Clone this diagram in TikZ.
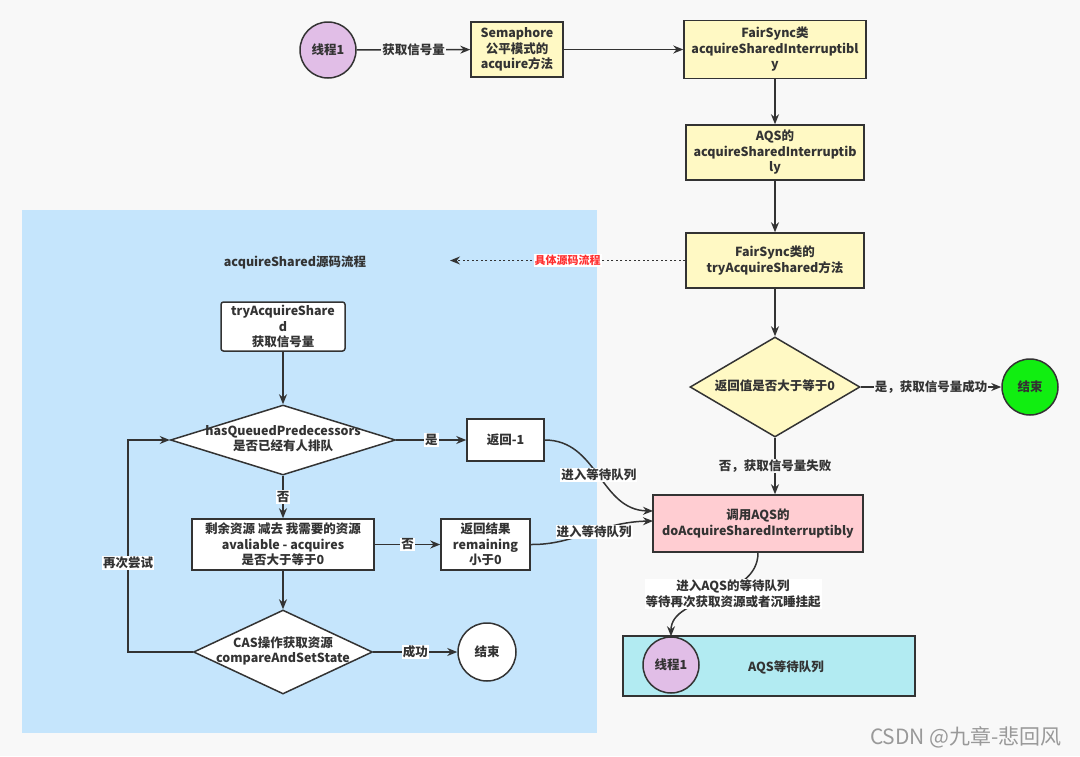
\documentclass[tikz,border=0pt]{standalone}
\usepackage{fontspec}
\setmainfont{Noto Sans CJK SC}
\usetikzlibrary{shapes.geometric,arrows.meta}
\definecolor{lc}{HTML}{333333}
\definecolor{txt}{HTML}{333333}
\definecolor{bg}{HTML}{F8F8F8}
\definecolor{panel}{HTML}{C5E5FC}
\definecolor{yel}{HTML}{FFF9C4}
\definecolor{purp}{HTML}{E1BEE7}
\definecolor{grn}{HTML}{11EE11}
\definecolor{pinkc}{HTML}{FFCDD2}
\definecolor{cyanc}{HTML}{B2EBF2}
\definecolor{redl}{HTML}{FF3030}
\newcommand{\zw}[1]{\makebox[0pt]{\begin{tabular}{@{}c@{}}#1\end{tabular}}}
\begin{document}
\begin{tikzpicture}[x=1pt,y=-1pt,
  every node/.style={font=\fontsize{12.5}{15.5}\selectfont\bfseries, text=txt},
  box/.style={draw=lc, line width=1.5pt, align=center, inner sep=2pt},
  rbox/.style={box, rounded corners=2.5pt},
  dia/.style={diamond, draw=lc, line width=1.5pt, inner sep=0pt},
  circ/.style={circle, draw=lc, line width=1.5pt, inner sep=0pt},
  arr/.style={draw=lc, line width=1.5pt, -{Stealth[length=10pt,width=8pt]}},
  lab/.style={fill=white, inner sep=1pt},
]
\fill[bg] (0,0) rectangle (1080,756);
\useasboundingbox (0,0) rectangle (1080,756);
\fill[panel] (22,210) rectangle (597,733);

% right column
\node[circ, fill=purp, minimum size=56pt] (t1) at (328,50) {线程1};
\node[box, fill=yel, minimum width=92pt, minimum height=55pt] (sem) at (517,49.5) {Semaphore\\公平模式的\\acquire方法};
\node[box, fill=yel, minimum width=182pt, minimum height=58pt] (fs1) at (775,49.5) {FairSync类\\acquireSharedInterruptibl\\y};
\node[box, fill=yel, minimum width=178pt, minimum height=55pt] (aqs) at (775,152.5) {AQS的\\acquireSharedInterruptib\\ly};
\node[box, fill=yel, minimum width=178pt, minimum height=55pt] (fs2) at (775,260.5) {FairSync类的\\tryAcquireShared方法};
\node[dia, fill=yel, minimum width=170pt, minimum height=100pt] (d1) at (775,387) {\zw{返回值是否大于等于0}};
\node[circ, fill=grn, minimum size=56pt] (e1) at (1030,387) {结束};
\node[box, fill=pinkc, minimum width=210pt, minimum height=57pt] (pk) at (758,523.5) {调用AQS的\\doAcquireSharedInterruptibly};
\node[box, fill=cyanc, minimum width=292pt, minimum height=60pt] (qu) at (769,666) {};
\node (ql) at (786,667) {AQS等待队列};
\node[circ, fill=purp, minimum size=56pt] (q1) at (671,665) {线程1};

% panel
\node (ttl) at (295,262) {acquireShared源码流程};
\node[rbox, fill=white, minimum width=124pt, minimum height=49pt] (ta) at (283,326.5) {tryAcquireShare\\d\\获取信号量};
\node[dia, fill=white, minimum width=225pt, minimum height=70pt] (hq) at (283,440) {\zw{hasQueuedPredecessors\\是否已经有人排队}};
\node[box, fill=white, minimum width=77pt, minimum height=42pt] (r1) at (505.5,440) {返回-1};
\node[box, fill=white, minimum width=182pt, minimum height=51pt] (rm) at (283,544.5) {剩余资源 减去 我需要的资源\\avaliable - acquires\\是否大于等于0};
\node[box, fill=white, minimum width=89pt, minimum height=51pt] (r2) at (485.5,544.5) {返回结果\\remaining\\小于0};
\node[dia, fill=white, minimum width=179pt, minimum height=84pt] (cas) at (283,652) {\zw{CAS操作获取资源\\compareAndSetState}};
\node[circ, fill=white, minimum size=58pt] (e2) at (487,652) {结束};

\coordinate (dl) at (450,260.5);
\coordinate (in1) at (653,511);
\coordinate (in2) at (653,521);
\coordinate (lb) at (128,652);
\coordinate (lt) at (128,440);

% edges right
\draw[arr] (t1) -- node[lab, fill=bg]{获取信号量} (sem);
\draw[arr] (sem.east) -- (sem.east -| fs1.west);
\draw[arr] (fs1) -- (aqs);
\draw[arr] (aqs) -- (fs2);
\draw[arr] (fs2) -- (d1);
\draw[arr] (d1) -- node[lab, fill=bg]{是，获取信号量成功} (e1);
\draw[arr] (d1.south) -- node[lab, fill=bg]{否，获取信号量失败} (d1.south |- pk.north);
\draw[arr, dash pattern=on 2pt off 2.5pt] (fs2.west) -- node[lab, text=redl, font=\fontsize{11}{13}\selectfont\bfseries]{具体源码流程} (dl);
\draw[arr] (pk.south) .. controls (758,600) and (671,595) .. node[lab, pos=0.45, xshift=12pt, align=center]{进入AQS的等待队列\\等待再次获取资源或者沉睡挂起} (q1.north);

% edges panel
\draw[arr] (ta) -- (hq);
\draw[arr] (hq.east) -- node[lab]{是} (r1.west);
\draw[arr] (hq.south) -- node[lab]{否} (hq.south |- rm.north);
\draw[arr] (rm) -- node[lab]{否} (r2);
\draw[arr] (rm.south) -- (rm.south |- cas.north);
\draw[arr] (cas) -- node[lab]{成功} (e2);
\draw[arr] (cas.west) -- (lb) -- node[lab, pos=0.42]{再次尝试} (lt) -- (hq.west);
\draw[arr] (r1.east) .. controls (598,440) and (600,510) .. node[lab, pos=0.5]{进入等待队列} (in1);
\draw[arr] (r2.east) .. controls (575,545) and (600,522) .. node[lab, pos=0.55]{进入等待队列} (in2);

\node[font=\fontsize{21}{24}\selectfont, text=black!40] (wm) at (966,737) {CSDN @九章-悲回风};
\end{tikzpicture}
\end{document}
